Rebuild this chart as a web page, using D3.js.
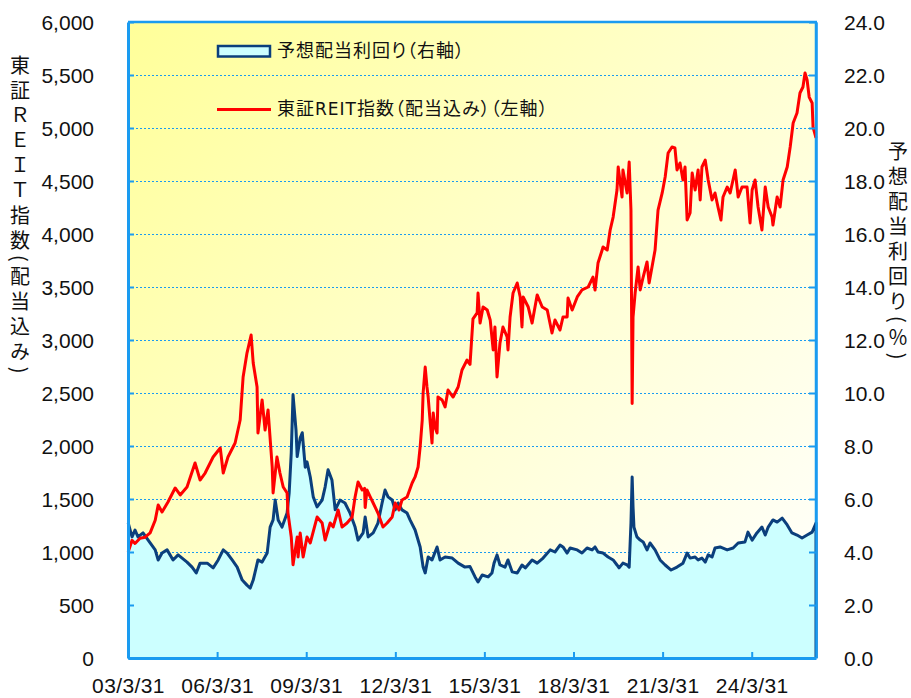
<!DOCTYPE html>
<html><head><meta charset="utf-8">
<script src="https://cdn.jsdelivr.net/npm/d3@7"></script>
<style>
html,body{margin:0;padding:0;background:#fff;}
svg{display:block;}
</style></head>
<body>
<svg id="chart" width="911" height="698"></svg>
<script>
// ---- data (dates as decimal years) ----
const reitT = [2003.25,2003.38,2003.48,2003.65,2003.82,2003.99,2004.16,2004.26,2004.39,2004.59,2004.83,2005.00,2005.23,2005.50,2005.67,2005.84,2006.11,2006.35,2006.45,2006.61,2006.85,2007.02,2007.12,2007.25,2007.39,2007.46,2007.59,2007.62,2007.76,2007.86,2007.96,2008.10,2008.13,2008.26,2008.36,2008.47,2008.60,2008.63,2008.74,2008.80,2008.94,2008.97,2009.04,2009.14,2009.27,2009.38,2009.61,2009.78,2009.88,2010.05,2010.15,2010.32,2010.45,2010.62,2010.79,2010.89,2010.99,2011.13,2011.21,2011.23,2011.29,2011.40,2011.50,2011.66,2011.83,2011.97,2012.14,2012.24,2012.37,2012.47,2012.64,2012.81,2012.91,2013.01,2013.08,2013.15,2013.18,2013.25,2013.31,2013.35,2013.42,2013.48,2013.52,2013.58,2013.65,2013.68,2013.82,2013.92,2014.02,2014.19,2014.36,2014.49,2014.66,2014.76,2014.86,2015.00,2015.03,2015.10,2015.20,2015.34,2015.44,2015.54,2015.60,2015.67,2015.77,2015.87,2016.01,2016.04,2016.11,2016.21,2016.35,2016.45,2016.51,2016.55,2016.72,2016.85,2017.02,2017.19,2017.36,2017.52,2017.62,2017.79,2017.89,2018.03,2018.06,2018.20,2018.37,2018.53,2018.74,2018.90,2018.97,2019.07,2019.21,2019.24,2019.38,2019.48,2019.58,2019.71,2019.75,2019.88,2019.91,2020.05,2020.12,2020.18,2020.22,2020.25,2020.32,2020.42,2020.49,2020.59,2020.72,2020.79,2020.99,2021.09,2021.23,2021.33,2021.43,2021.56,2021.66,2021.73,2021.83,2021.93,2022.00,2022.07,2022.17,2022.24,2022.34,2022.44,2022.51,2022.57,2022.68,2022.78,2022.91,2023.01,2023.11,2023.21,2023.28,2023.42,2023.52,2023.69,2023.79,2023.92,2024.09,2024.19,2024.26,2024.36,2024.46,2024.59,2024.70,2024.80,2024.93,2024.96,2025.10,2025.20,2025.30,2025.44,2025.54,2025.64,2025.77,2025.87,2025.97,2026.04,2026.11,2026.18,2026.28,2026.31,2026.41];
const reitV = [1000,1110,1080,1130,1140,1180,1300,1443,1377,1472,1604,1538,1613,1840,1679,1745,1896,1981,1745,1896,2028,2245,2651,2877,3047,2783,2557,2123,2434,2151,2340,1802,1557,1896,1745,1613,1557,1368,1142,880,1142,953,1179,953,1142,1085,1330,1274,1113,1274,1236,1396,1236,1274,1330,1519,1660,1585,1600,1420,1585,1519,1462,1368,1236,1274,1330,1462,1396,1491,1519,1651,1708,1802,1991,2245,2500,2745,2557,2462,2217,2028,2311,2179,2123,2462,2434,2368,2528,2462,2557,2717,2811,2770,3200,3255,3443,3160,3311,3283,3189,2906,3123,2651,2972,3123,3028,2906,3217,3443,3538,3406,3123,3406,3311,3160,3425,3311,3283,3066,3189,3094,3217,3217,3396,3283,3406,3472,3500,3594,3472,3726,3849,3877,3849,4038,4160,4415,4632,4349,4604,4387,4679,4226,2400,3217,3443,3689,3472,3594,3736,3538,3849,4226,4387,4538,4764,4821,4811,4604,4670,4509,4632,4132,4198,4575,4415,4604,4321,4632,4698,4509,4321,4387,4255,4132,4349,4443,4387,4604,4349,4443,4443,4104,4415,4509,4255,4038,4443,4255,4160,4085,4349,4255,4509,4632,4821,5047,5141,5330,5387,5519,5453,5292,5236,5009,4906];

const yieldT = [2003.25,2003.38,2003.48,2003.58,2003.75,2003.99,2004.16,2004.26,2004.39,2004.56,2004.76,2004.93,2005.23,2005.40,2005.54,2005.67,2005.91,2006.11,2006.28,2006.45,2006.58,2006.75,2006.92,2007.09,2007.25,2007.36,2007.46,2007.62,2007.76,2007.93,2008.03,2008.13,2008.20,2008.30,2008.43,2008.60,2008.67,2008.74,2008.80,2008.90,2008.94,2009.04,2009.11,2009.21,2009.27,2009.38,2009.48,2009.61,2009.78,2009.88,2009.98,2010.11,2010.22,2010.38,2010.55,2010.72,2010.89,2010.99,2011.16,2011.23,2011.33,2011.50,2011.66,2011.80,2011.90,2012.00,2012.14,2012.24,2012.34,2012.47,2012.64,2012.74,2012.91,2013.08,2013.18,2013.25,2013.35,2013.48,2013.65,2013.75,2013.92,2014.16,2014.36,2014.59,2014.76,2014.93,2015.03,2015.17,2015.37,2015.50,2015.57,2015.67,2015.77,2015.94,2016.04,2016.18,2016.35,2016.51,2016.62,2016.85,2017.02,2017.22,2017.46,2017.62,2017.79,2017.89,2018.03,2018.13,2018.37,2018.53,2018.70,2018.87,2018.97,2019.07,2019.24,2019.41,2019.58,2019.71,2019.78,2019.91,2020.05,2020.12,2020.18,2020.22,2020.25,2020.28,2020.38,2020.49,2020.59,2020.72,2020.82,2020.99,2021.16,2021.33,2021.53,2021.73,2021.93,2022.07,2022.17,2022.34,2022.44,2022.57,2022.68,2022.78,2022.91,2023.01,2023.18,2023.42,2023.62,2023.79,2024.02,2024.12,2024.26,2024.42,2024.59,2024.70,2024.80,2024.96,2025.10,2025.27,2025.44,2025.60,2025.77,2025.94,2026.11,2026.28,2026.41];
const yieldV = [5.10,4.57,4.83,4.57,4.72,4.34,4.08,3.70,3.96,4.08,3.70,3.89,3.62,3.43,3.21,3.58,3.58,3.40,3.70,4.08,3.96,3.70,3.43,2.94,2.75,2.64,2.94,3.70,3.62,3.96,4.94,5.21,5.96,5.21,4.94,5.47,6.23,7.74,9.93,8.60,7.60,8.30,8.50,7.20,7.40,6.83,6.08,5.70,5.96,6.45,7.10,6.72,5.59,5.96,5.85,5.47,4.94,4.45,4.72,5.32,4.57,4.72,5.09,5.85,6.34,6.08,5.96,5.59,5.85,5.59,5.47,5.21,4.83,4.19,3.43,3.21,3.81,3.70,4.19,3.70,3.81,3.77,3.58,3.43,3.45,3.06,2.87,3.13,3.06,3.21,3.58,3.89,3.51,3.43,3.70,3.25,3.21,3.51,3.40,3.70,3.58,3.77,4.08,4.00,4.26,4.19,3.96,4.15,4.08,3.96,4.15,4.08,4.19,4.00,3.96,3.81,3.70,3.51,3.40,3.58,3.51,3.43,5.09,6.83,5.70,4.94,4.57,4.45,4.38,4.08,4.34,4.08,3.70,3.51,3.32,3.43,3.58,3.96,3.77,3.81,3.70,3.77,3.62,3.89,3.81,4.15,4.19,4.08,4.15,4.34,4.38,4.75,4.45,4.72,4.94,4.64,4.94,5.21,5.13,5.28,5.02,4.72,4.64,4.53,4.64,4.75,5.09];

const xTickYears = [2003,2006,2009,2012,2015,2018,2021,2024];
const leftTicks = [0,500,1000,1500,2000,2500,3000,3500,4000,4500,5000,5500,6000];
const rightTicks = [0,2,4,6,8,10,12,14,16,18,20,22,24];
const legend1 = ["予想配当利回り（右軸）"];
const legend2 = ["東証", "REIT", "指数（配当込み）（左軸）"];
const leftTitle = "東証ＲＥＩＴ指数(配当込み)";
const rightTitle = "予想配当利回り(％)";

// ---- helpers ----
function dy(t){const y=Math.floor(t);const s=new Date(y,0,1),e=new Date(y+1,0,1);return new Date(+s+(t-y)*(e-s));}
const reit = reitT.map((t,i)=>({d:dy(t),v:reitV[i]}));
const yld = yieldT.map((t,i)=>({d:dy(t),v:yieldV[i]}));

const L=128,R=816,T=22,B=658;
const svg=d3.select("#chart");
const x=d3.scaleTime().domain([new Date(2003,2,31), dy(2026.41)]).range([L,R]);
const yL=d3.scaleLinear().domain([0,6000]).range([B,T]);
const yR=d3.scaleLinear().domain([0,24]).range([B,T]);

const AX="#1a9bf0", NAVY="#0b3f7c";
const numFont="'Liberation Sans', Arial, sans-serif";
const jpFont="'Noto Sans CJK JP', sans-serif";

// background gradient
const defs=svg.append("defs");
const g=defs.append("linearGradient").attr("id","bg").attr("gradientUnits","userSpaceOnUse")
  .attr("x1",L).attr("y1",T).attr("x2",R).attr("y2",B);
g.append("stop").attr("offset","0").attr("stop-color","#ffff99");
g.append("stop").attr("offset","0.5").attr("stop-color","#ffffcf");
g.append("stop").attr("offset","1").attr("stop-color","#ffffff");
svg.append("rect").attr("x",L).attr("y",T).attr("width",R-L).attr("height",B-T).attr("fill","url(#bg)");

// gridlines
svg.append("g").selectAll("line").data(leftTicks.filter(v=>v>0&&v<6000)).join("line")
  .attr("x1",L).attr("x2",R).attr("y1",d=>yL(d)+0.5).attr("y2",d=>yL(d)+0.5)
  .attr("stroke",AX).attr("stroke-width",1).attr("stroke-dasharray","2,2");

// right/top borders
svg.append("line").attr("x1",L).attr("x2",R+1).attr("y1",T).attr("y2",T).attr("stroke",AX).attr("stroke-width",2.5);
svg.append("line").attr("x1",R).attr("x2",R).attr("y1",T).attr("y2",B).attr("stroke",AX).attr("stroke-width",2.5);

// yield area
const area=d3.area().x(d=>x(d.d)).y0(B).y1(d=>yR(d.v));
svg.append("path").datum(yld).attr("d",area).attr("fill","#ccffff").attr("stroke","none");
const line2=d3.line().x(d=>x(d.d)).y(d=>yR(d.v));
svg.append("path").datum(yld.concat([{d:yld[yld.length-1].d,v:0}])).attr("d",line2)
  .attr("fill","none").attr("stroke",NAVY).attr("stroke-width",3).attr("stroke-linejoin","round");

// reit line
const line1=d3.line().x(d=>x(d.d)).y(d=>yL(d.v));
svg.append("path").datum(reit).attr("d",line1).attr("fill","none").attr("stroke","#ff0000")
  .attr("stroke-width",3).attr("stroke-linejoin","round");

// axes
const axL=d3.axisLeft(yL).tickValues(leftTicks).tickFormat(d3.format(",")).tickSizeInner(-6).tickSizeOuter(0).tickPadding(34);
const gl=svg.append("g").attr("transform",`translate(${L},0)`).call(axL);
const axR=d3.axisRight(yR).tickValues(rightTicks).tickFormat(d3.format(".1f")).tickSizeInner(-7).tickSizeOuter(0).tickPadding(28);
const gr=svg.append("g").attr("transform",`translate(${R},0)`).call(axR);
const ticksX=xTickYears.map(y=>new Date(y,2,31));
const axB=d3.axisBottom(x).tickValues(ticksX).tickFormat(d3.timeFormat("%y/%-m/%-d")).tickSizeInner(-6).tickSizeOuter(0).tickPadding(20);
const gb=svg.append("g").attr("transform",`translate(0,${B})`).call(axB);

[gl,gr,gb].forEach(a=>{
  a.selectAll(".domain").attr("stroke",AX).attr("stroke-width",3);
  a.selectAll(".tick line").attr("stroke",AX).attr("stroke-width",2);
  a.selectAll("text").attr("fill","#111").attr("font-family",numFont).attr("font-size",21);
});
gr.select(".domain").attr("stroke-width",2.5);
gl.selectAll("text").attr("dy","0.35em");
gr.selectAll("text").attr("dy","0.35em");
gb.selectAll("text").attr("dy","0.7em").attr("letter-spacing","0.4px");

// axis titles (vertical)
svg.append("text").attr("x",20).attr("y",55).text(leftTitle)
  .attr("font-family",jpFont).attr("font-size",20).attr("fill","#111")
  .style("writing-mode","vertical-rl").style("text-orientation","mixed").attr("letter-spacing","5px");
svg.append("text").attr("x",898).attr("y",141).text(rightTitle)
  .attr("font-family",jpFont).attr("font-size",20).attr("fill","#111")
  .style("writing-mode","vertical-rl").style("text-orientation","mixed").attr("letter-spacing","5px");

// legend
const lg=svg.append("g");
lg.append("rect").attr("x",218).attr("y",46).attr("width",52).attr("height",10.5)
  .attr("fill","#ccffff").attr("stroke",NAVY).attr("stroke-width",2.5);
lg.append("line").attr("x1",217).attr("x2",271).attr("y1",109.5).attr("y2",109.5).attr("stroke","#ff0000").attr("stroke-width",3);
lg.append("text").attr("x",277).attr("y",51).attr("dy","0.36em")
  .attr("font-family",jpFont).attr("font-size",18).attr("fill","#111").attr("letter-spacing","1px")
  .style("font-feature-settings","'palt'").text(legend1[0]);
const t2=lg.append("text").attr("x",277).attr("y",109).attr("dy","0.36em")
  .attr("font-family",jpFont).attr("font-size",18).attr("fill","#111").attr("letter-spacing","1px")
  .style("font-feature-settings","'palt'");
t2.selectAll("tspan").data(legend2).join("tspan").text(d=>d)
  .attr("font-family",(d,i)=>i===1?"'DejaVu Sans', sans-serif":null)
  .attr("font-size",(d,i)=>i===1?17:null);
</script>
</body></html>
